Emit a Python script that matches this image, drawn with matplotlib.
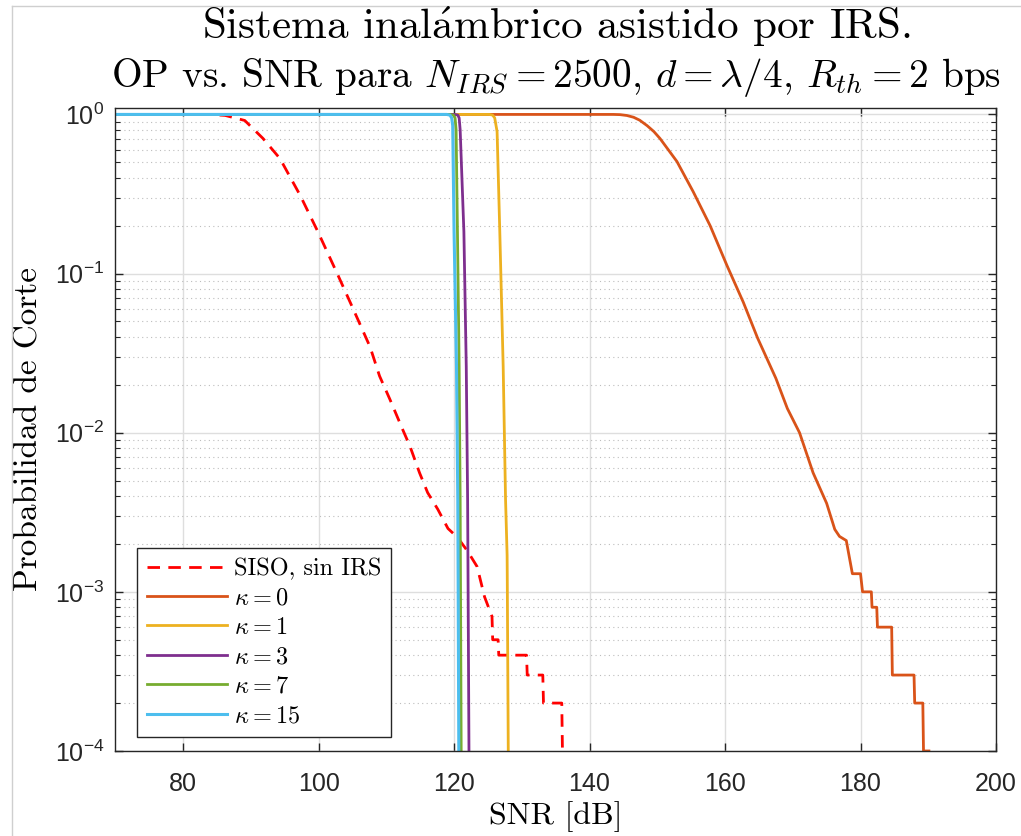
import numpy as np
import matplotlib
matplotlib.use("Agg")
import matplotlib.pyplot as plt
from matplotlib.font_manager import FontProperties
from matplotlib.lines import Line2D
from matplotlib.ticker import LogLocator, FixedLocator, NullFormatter

# fuente sans para los numeros de los ejes (tipo Helvetica de MATLAB)
plt.rcParams['font.family'] = 'Liberation Sans'
plt.rcParams['mathtext.fontset'] = 'custom'
plt.rcParams['mathtext.rm'] = 'Liberation Sans'
plt.rcParams['mathtext.it'] = 'Liberation Sans:italic'
plt.rcParams['mathtext.bf'] = 'Liberation Sans:bold'
plt.rcParams['axes.unicode_minus'] = False

# SISO sin IRS (curva roja discontinua)
snr_siso = [70, 84, 86.2, 89.1, 91.8, 94.3, 97.3, 99.9, 102.9, 105.1, 107.6, 109.0,
            110.5, 112.4, 113.5, 114.9, 116.1, 117.6, 119.1, 120.5, 122.0, 123.4,
            124.5, 125.6, 125.7, 126.5, 126.6, 130.7, 130.8, 133.1, 133.2, 135.9, 136.0]
op_siso = [1, 1, 0.986, 0.916, 0.706, 0.528, 0.309, 0.183, 0.0968, 0.060, 0.0346, 0.0227,
           0.0163, 0.0105, 0.0082, 0.0056, 0.0042, 0.0033, 0.0025, 0.0022, 0.0018, 0.00144,
           0.00093, 0.0007, 0.0005, 0.0005, 0.0004, 0.0004, 0.0003, 0.0003, 0.0002, 0.0002, 0.0001]

# kappa = 0
snr_k0 = [70, 143.5, 144.5, 145.5, 146.5, 147.4, 148.5, 149.5, 150.4, 152.9, 155.3, 157.8,
          160.3, 162.7, 164.8, 167.5, 169.2, 171.0, 173.0, 175.0, 176.2, 176.9, 177.9,
          178.8, 180.0, 180.3, 181.6, 181.7, 182.4, 182.5, 184.6, 184.7, 187.9, 188.0,
          189.2, 189.3, 190.1]
op_k0 = [1, 1, 0.997, 0.985, 0.96, 0.92, 0.85, 0.78, 0.706, 0.506, 0.327, 0.2,
         0.112, 0.066, 0.0394, 0.022, 0.0142, 0.010, 0.0056, 0.0036, 0.00247, 0.00223, 0.0021,
         0.0013, 0.0013, 0.001, 0.001, 0.0008, 0.0008, 0.0006, 0.0006, 0.0003, 0.0003, 0.0002,
         0.0002, 0.0001, 0.0001]

# kappa = 1
snr_k1 = [70, 125.2, 125.7, 126.0, 126.35, 126.75, 127.25, 127.6, 127.83, 127.85, 128.0]
op_k1 = [1, 1, 0.99, 0.95, 0.78, 0.183, 0.026, 0.0038, 0.0017, 0.0013, 0.0001]

# kappa = 3
snr_k3 = [70, 120.1, 120.55, 120.75, 120.9, 121.45, 121.8, 122.0, 122.2]
op_k3 = [1, 1, 0.99, 0.95, 0.8, 0.183, 0.026, 0.0038, 0.0001]

# kappa = 7
snr_k7 = [70, 119.4, 119.9, 120.15, 120.3, 120.5, 120.75, 120.9, 121.05]
op_k7 = [1, 1, 0.99, 0.95, 0.8, 0.183, 0.026, 0.0038, 0.0001]

# kappa = 15
snr_k15 = [70, 118.9, 119.4, 119.65, 119.8, 120.0, 120.36, 120.55, 120.7]
op_k15 = [1, 1, 0.99, 0.95, 0.85, 0.183, 0.026, 0.0038, 0.0001]

fig = plt.figure(figsize=(10.21, 8.36), dpi=100)
ax = fig.add_axes([0.113, 0.1017, 0.8625, 0.7693])

# borde de la ventana de la captura
fig.add_artist(Line2D([12 / 1021, 1], [1 - 6 / 836, 1 - 6 / 836], color='#cfcfcf', lw=1))
fig.add_artist(Line2D([12 / 1021, 12 / 1021], [0, 1 - 6 / 836], color='#cfcfcf', lw=1))

ax.plot(snr_siso, op_siso, color='r', lw=2, dashes=(4.5, 3), label='SISO, sin IRS')
ax.plot(snr_k0, op_k0, color='#D95319', lw=2, label=r'$\kappa = 0$')
ax.plot(snr_k1, op_k1, color='#EDB120', lw=2, label=r'$\kappa = 1$')
ax.plot(snr_k3, op_k3, color='#7E2F8E', lw=2, label=r'$\kappa = 3$')
ax.plot(snr_k7, op_k7, color='#77AC30', lw=2, label=r'$\kappa = 7$')
ax.plot(snr_k15, op_k15, color='#4DBEEE', lw=2.2, label=r'$\kappa = 15$')

ax.set_yscale('log')
ax.set_xlim(70, 200)
ax.set_ylim(1e-4, 1.1)
ax.set_xticks([80, 100, 120, 140, 160, 180, 200])
ax.yaxis.set_major_locator(FixedLocator([1e-4, 1e-3, 1e-2, 1e-1, 1]))
ax.set_yticklabels([r'$10^{-4}$', r'$10^{-3}$', r'$10^{-2}$', r'$10^{-1}$', r'$10^{0}$'])
ax.yaxis.set_minor_locator(LogLocator(base=10, subs=np.arange(2, 10), numticks=20))
ax.yaxis.set_minor_formatter(NullFormatter())

ax.grid(True, which='major', color='#dedede', lw=1, ls='-')
ax.grid(True, which='minor', axis='y', color='#bdbdbd', lw=0.8, ls=(0, (1, 3)))
ax.set_axisbelow(True)

ax.tick_params(which='both', direction='in', top=True, right=True, colors='#262626')
ax.tick_params(which='major', length=6, width=1, labelsize=18, pad=8)
ax.tick_params(axis='x', which='major', pad=15)
ax.tick_params(which='minor', length=3.5, width=0.8)
for s in ax.spines.values():
    s.set_color('#262626')
    s.set_linewidth(1)

cm_font = dict(family='cmr10', math_fontfamily='cm')
ax.set_xlabel('SNR [dB]', fontsize=23, labelpad=4, **cm_font)
ax.set_ylabel('Probabilidad de Corte', fontsize=24, labelpad=8, **cm_font)

xc = 556 / 1021
fig.text(xc, 1 - 39 / 836, 'Sistema inal$\\mathrm{\\acute{a}}$mbrico asistido por IRS.',
         ha='center', va='baseline', fontsize=31, **cm_font)
fig.text(xc, 1 - 87 / 836,
         'OP vs. SNR para $N_{IRS} = 2500$, $d = \\lambda/4$, $R_{th} = 2$ bps',
         ha='center', va='baseline', fontsize=28.3, **cm_font)

leg = ax.legend(loc='lower left', bbox_to_anchor=(0.0244, 0.0218), borderaxespad=0,
                prop=FontProperties(family='cmr10', size=17.5, math_fontfamily='cm'),
                handlelength=3.3, handletextpad=0.3, borderpad=0.4, labelspacing=0.3,
                fancybox=False, framealpha=1, edgecolor='#262626')
leg.get_frame().set_linewidth(1)

fig.savefig('out.png', dpi=100)
